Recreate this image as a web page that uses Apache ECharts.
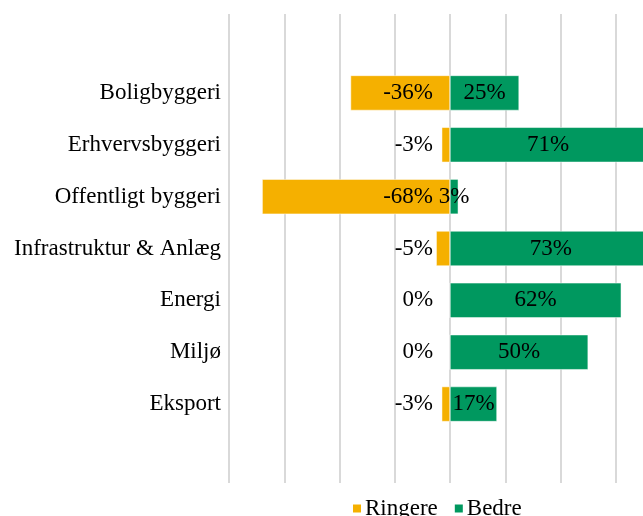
<!DOCTYPE html>
<html>
<head>
<meta charset="utf-8">
<script src="https://cdn.jsdelivr.net/npm/echarts@6/dist/echarts.min.js"></script>
<style>
  html, body { margin: 0; padding: 0; background: #fff; overflow: hidden; width: 643px; height: 516px; }
  #chart { width: 672px; height: 516px; }
</style>
</head>
<body>
<div id="chart"></div>
<script>
// categories, top to bottom
var categories = ['Boligbyggeri', 'Erhvervsbyggeri', 'Offentligt byggeri', 'Infrastruktur & Anlæg', 'Energi', 'Miljø', 'Eksport'];
var ringere = [-36, -3, -68, -5, 0, 0, -3];
var bedre = [25, 71, 3, 73, 62, 50, 17];

var font = 'Liberation Serif';
var fs = 23;

// the plot runs past the right edge of the 643px picture, as in the original crop
var chart = echarts.init(document.getElementById('chart'));
chart.setOption({
  animation: false,
  color: ['#F5B000', '#00985F'],
  textStyle: { fontFamily: font },
  legend: {
    data: ['Ringere', 'Bedre'],
    bottom: -9,
    left: 346,
    itemWidth: 10,
    itemHeight: 10,
    itemGap: 15,
    icon: 'rect',
    textStyle: { fontFamily: font, fontSize: fs, color: '#000', padding: [0, 0, 0, -2] }
  },
  grid: [
    // bars
    { left: 229, right: 1, top: 67, bottom: 86 },
    // tall grid only for the gridlines
    { left: 229, right: 1, top: 14, bottom: 33 }
  ],
  xAxis: [
    {
      type: 'value', gridIndex: 0, min: -80, max: 80, interval: 20,
      axisLabel: { show: false }, axisLine: { show: false }, axisTick: { show: false },
      splitLine: { show: false }
    },
    {
      type: 'value', gridIndex: 1, min: -80, max: 80, interval: 20,
      axisLabel: { show: false }, axisLine: { show: false }, axisTick: { show: false },
      splitLine: { show: true, lineStyle: { color: '#d9d9d9', width: 2 } }
    }
  ],
  yAxis: [
    {
      type: 'category', gridIndex: 0, data: categories, inverse: true,
      axisLine: { show: false }, axisTick: { show: false },
      axisLabel: { fontFamily: font, fontSize: fs, color: '#000', margin: 8 }
    },
    {
      type: 'category', gridIndex: 1, data: [], show: false
    }
  ],
  series: [
    {
      name: 'Ringere', type: 'bar', stack: 'a', data: ringere, barWidth: 35,
      itemStyle: { borderColor: '#fff', borderWidth: 0.5 },
      label: {
        show: true, position: 'insideRight', distance: 17,
        formatter: '{c}%', fontFamily: font, fontSize: fs, color: '#000'
      }
    },
    {
      name: 'Bedre', type: 'bar', stack: 'a', data: bedre, barWidth: 35,
      itemStyle: { borderColor: '#fff', borderWidth: 0.5 },
      label: {
        show: true, position: 'inside',
        formatter: '{c}%', fontFamily: font, fontSize: fs, color: '#000'
      }
    }
  ]
});
</script>
</body>
</html>
